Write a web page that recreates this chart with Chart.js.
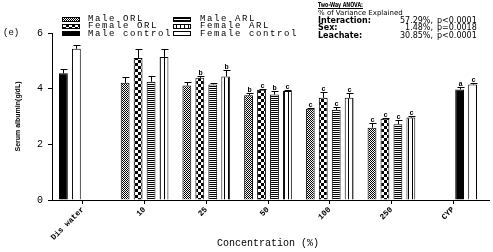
<!DOCTYPE html>
<html><head><meta charset="utf-8">
<script src="https://cdn.jsdelivr.net/npm/chart.js@4/dist/chart.umd.min.js"></script>
<style>html,body{margin:0;padding:0;background:#fff;overflow:hidden}#wrap{position:relative;width:493px;height:252px}</style>
</head><body><div id="wrap"><canvas id="c" width="493" height="252"></canvas></div>
<script>
// ---- data ----
const categories = ['Dis water','10','25','50','100','250','CYP'];
const maleORL      = [null,4.21,4.11,3.76,3.28,2.60,null];
const femaleORL    = [null,5.10,4.39,3.96,3.67,2.92,null];
const maleARL      = [null,4.25,4.15,3.79,3.24,2.72,null];
const femaleARL    = [null,5.14,4.44,3.92,3.67,2.96,null];
const maleControl  = [4.55,null,null,null,null,null,3.97];
const femaleControl= [5.43,null,null,null,null,null,4.15];
const maleORLErr      = [null,0.21,0.13,0.09,0.04,0.17,null];
const femaleORLErr    = [null,0.32,0.07,0.04,0.20,0.04,null];
const maleARLErr      = [null,0.21,0.06,0.14,0.11,0.14,null];
const femaleARLErr    = [null,0.29,0.24,0.04,0.18,0.07,null];
const maleControlErr  = [0.15,null,null,null,null,null,0.08];
const femaleControlErr= [0.14,null,null,null,null,null,0.06];
const maleORLSig      = ['','','','b','c','c',''];
const femaleORLSig    = ['','','b','c','c','c',''];
const maleARLSig      = ['','','','b','c','c',''];
const femaleARLSig    = ['','','b','c','c','c',''];
const maleControlSig  = ['','','','','','','a'];
const femaleControlSig= ['','','','','','','c'];
const yTicks = [0,2,4,6];
const panelLabel = '(e)';
const anovaTitle = 'Two-Way ANOVA:';
const anovaSub = '% of Variance Explained';
const anovaRows = [['Interaction:','57.29%,','p<0.0001'],['Sex:','1.48%,','p=0.0018'],['Leachate:','30.85%,','p<0.0001']];

// ---- patterns ----
const mainCtx = document.getElementById('c').getContext('2d');
function pat(w,h,draw){const c=document.createElement('canvas');c.width=w;c.height=h;const x=c.getContext('2d');x.fillStyle='#fff';x.fillRect(0,0,w,h);x.fillStyle='#000';draw(x);return mainCtx.createPattern(c,'repeat');}
const pMaleORL = pat(2,2,x=>{x.fillRect(0,0,1,1);x.fillRect(1,1,1,1);});
const pFemaleORL = pat(6,6,x=>{x.fillRect(0,0,3,3);x.fillRect(3,3,3,3);});
const pMaleARL = pat(2,2,x=>{x.fillRect(0,0,2,1);});
const pFemaleARL = pat(4,4,x=>{x.fillRect(0,0,1,4);});

const half = categories.length/2;
const firstHalf = a => a.map((v,i)=> i<half ? v : null);
const secondHalf = a => a.map((v,i)=> i>=half ? v : null);
function ds(label,data,errs,sig,fill,stack){return {label,data,errs,sig,backgroundColor:fill,borderColor:'#000',borderWidth:1,stack};}
const datasets = [
  ds('Male ORL',maleORL,maleORLErr,maleORLSig,pMaleORL,'s1'),
  ds('Female ORL',femaleORL,femaleORLErr,femaleORLSig,pFemaleORL,'s2'),
  ds('Male ARL',maleARL,maleARLErr,maleARLSig,pMaleARL,'s3'),
  ds('Female ARL',femaleARL,femaleARLErr,femaleARLSig,pFemaleARL,'s4'),
  ds('Male control',firstHalf(maleControl),firstHalf(maleControlErr),maleControlSig,'#000','s1'),
  ds('Female control',firstHalf(femaleControl),firstHalf(femaleControlErr),femaleControlSig,'#fff','s2'),
  ds('Male control',secondHalf(maleControl),secondHalf(maleControlErr),maleControlSig,'#000','s3'),
  ds('Female control',secondHalf(femaleControl),secondHalf(femaleControlErr),femaleControlSig,'#fff','s4')
];
const legendCols = [
  [[0,'Male ORL'],[1,'Female ORL'],[4,'Male control']],
  [[2,'Male ARL'],[3,'Female ARL'],[5,'Female control']]
];

const extras = {
  id:'extras',
  afterDatasetsDraw(chart){
    const ctx=chart.ctx, y=chart.scales.y;
    ctx.save();
    ctx.strokeStyle='#000';ctx.lineWidth=1;ctx.fillStyle='#000';
    ctx.font='bold 7px "Liberation Mono"';ctx.textAlign='center';ctx.textBaseline='bottom';
    chart.data.datasets.forEach((d,di)=>{
      const meta=chart.getDatasetMeta(di);
      d.data.forEach((v,i)=>{
        if(v==null) return;
        const el=meta.data[i];
        const e=d.errs[i]||0;
        const cx=Math.round(el.x)+0.5;
        const yt=Math.round(y.getPixelForValue(v+e))+0.5;
        ctx.beginPath();ctx.moveTo(cx,el.y);ctx.lineTo(cx,yt);
        ctx.moveTo(cx-3,yt);ctx.lineTo(cx+4,yt);ctx.stroke();
        if(d.sig[i]) ctx.fillText(d.sig[i],cx,yt);
      });
    });
    ctx.restore();
  },
  afterDraw(chart){
    const ctx=chart.ctx, a=chart.chartArea;
    ctx.save();
    ctx.strokeStyle='#000';ctx.lineWidth=1;
    ctx.beginPath();ctx.moveTo(a.right,Math.round(a.bottom)+0.5);ctx.lineTo(490,Math.round(a.bottom)+0.5);ctx.stroke();
    // legend
    const colX=[62,173], textX=[88,200], rowY=[19,26,33.5];
    ctx.textBaseline='middle';ctx.textAlign='left';ctx.fillStyle='#000';
    ctx.font='9px "Liberation Mono"';
    ctx.letterSpacing='1.6px';
    legendCols.forEach((col,ci)=>col.forEach(([di,lab],ri)=>{
      const yy=rowY[ri];
      ctx.fillStyle=chart.data.datasets[di].backgroundColor;
      ctx.fillRect(colX[ci],Math.round(yy-2.5),18,5);
      ctx.strokeRect(colX[ci]+0.5,Math.round(yy-2.5)+0.5,17,4);
      ctx.fillStyle='#000';
      ctx.fillText(lab,textX[ci],yy);
    }));
    ctx.letterSpacing='0px';
    // panel label
    ctx.font='9px "Liberation Mono"';
    ctx.fillText(panelLabel,3,33);
    // anova
    ctx.font='bold 7px "DejaVu Sans"';
    ctx.fillText(anovaTitle,318,5,45);
    ctx.beginPath();ctx.moveTo(318,8.5);ctx.lineTo(363,8.5);ctx.stroke();
    ctx.font='7px "DejaVu Sans"';
    ctx.fillText(anovaSub,318,13,97);
    const ry=[20.5,28,35.5];
    anovaRows.forEach((r,i)=>{
      ctx.font='bold 8px "DejaVu Sans"';ctx.textAlign='left';
      ctx.fillText(r[0],318,ry[i]);
      ctx.font='8px "DejaVu Sans"';ctx.textAlign='right';
      ctx.fillText(r[1],433,ry[i]);
      ctx.textAlign='left';
      ctx.fillText(r[2],437,ry[i]);
    });
    ctx.restore();
  }
};

new Chart(document.getElementById('c'),{
  type:'bar',
  data:{labels:categories,datasets},
  options:{
    responsive:false,animation:false,devicePixelRatio:1,
    layout:{padding:{top:33,right:9,left:0,bottom:0}},
    datasets:{bar:{categoryPercentage:0.84,barPercentage:0.68}},
    plugins:{legend:{display:false},tooltip:{enabled:false}},
    scales:{
      x:{stacked:true,
        grid:{display:true,drawOnChartArea:false,drawTicks:true,tickLength:4,color:'#000',offset:false},
        border:{display:true,color:'#000',width:1},
        ticks:{color:'#000',font:{family:'Liberation Mono',size:8,weight:'bold'},maxRotation:45,minRotation:45,autoSkip:false,padding:1},
        title:{display:true,text:'Concentration (%)',color:'#000',font:{family:'Liberation Mono',size:10},padding:{top:0,bottom:3}},
        afterFit:s=>{s.height=52;}
      },
      y:{stacked:false,min:0,max:6,
        afterBuildTicks:s=>{s.ticks=yTicks.map(v=>({value:v}));},
        grid:{display:true,drawOnChartArea:false,drawTicks:true,tickLength:4,color:'#000'},
        border:{display:true,color:'#000',width:1},
        ticks:{color:'#000',font:{family:'Liberation Mono',size:10},padding:5},
        title:{display:true,text:'Serum albumin(g/dL)',color:'#000',font:{family:'Liberation Sans',size:7,weight:'bold'},padding:{top:14,bottom:0}},
        afterFit:s=>{s.width=52;}
      }
    }
  },
  plugins:[extras]
});
</script></body></html>
